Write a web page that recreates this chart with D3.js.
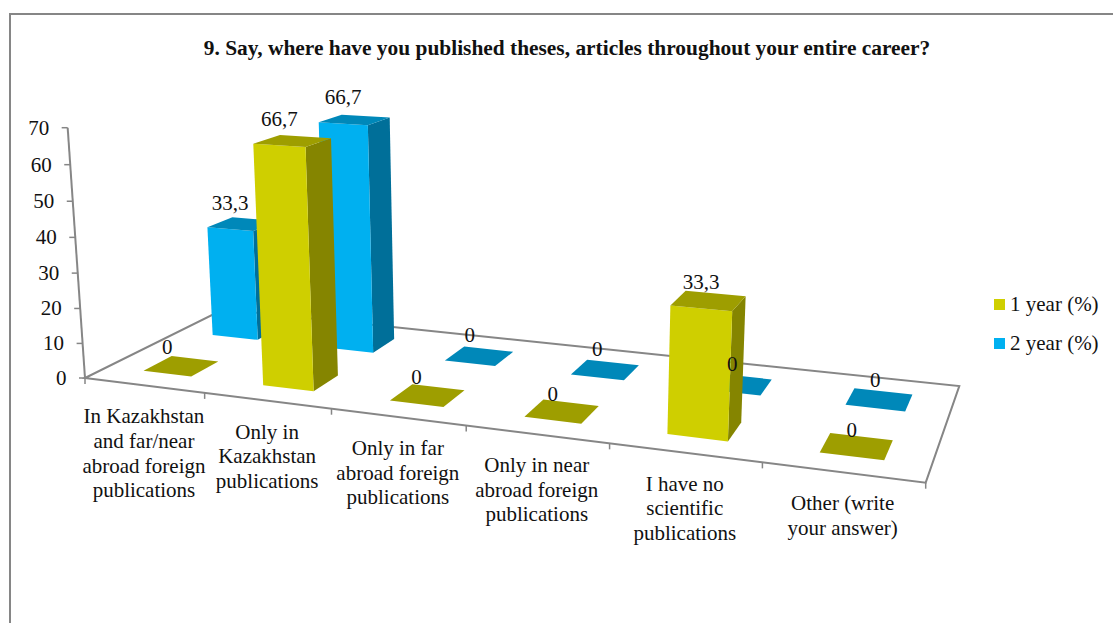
<!DOCTYPE html>
<html>
<head>
<meta charset="utf-8">
<title>9. Say, where have you published</title>
<script src="https://cdn.jsdelivr.net/npm/d3@7"></script>
<style>
	html, body { margin: 0; padding: 0; background: #fff; overflow: hidden; }
	text { font-family: "Liberation Serif", "Times New Roman", serif; fill: #111; }
</style>
</head>
<body>
<div id="chart"></div>
<script>
var title = "9. Say, where have you published theses, articles throughout your entire career?";

var categories = [
	["In Kazakhstan", "and far/near", "abroad foreign", "publications"],
	["Only in", "Kazakhstan", "publications"],
	["Only in far", "abroad foreign", "publications"],
	["Only in near", "abroad foreign", "publications"],
	["I have no", "scientific", "publications"],
	["Other (write", "your answer)"]
];
var seriesNames = ["1 year (%)", "2 year (%)"];
var year1 = [0, 66.7, 0, 0, 33.3, 0];
var year2 = [33.3, 66.7, 0, 0, 0, 0];
var yTicks = [0, 10, 20, 30, 40, 50, 60, 70];

var colors = [
	{ front: "#CFCF00", side: "#858500", top: "#9E9E00" },
	{ front: "#00B0F0", side: "#006F99", top: "#0088B9" }
];
var axisColor = "#868686";

chart("#chart");

function chart(id) {
	var width = 1113;
	var height = 623;

	var svg = d3.select(id).append("svg")
		.attr("width", width)
		.attr("height", height)
		.style("display", "block");

	// outer frame, only left and top are in the picture
	svg.append("path")
		.attr("d", "M10,623V14H1113")
		.attr("fill", "none")
		.attr("stroke", axisColor)
		.attr("stroke-width", 2);

	svg.append("text")
		.attr("x", 567).attr("y", 55)
		.attr("text-anchor", "middle")
		.style("font-size", "21.4px")
		.style("font-weight", "bold")
		.text(title);

	// scales work in a unit box: u along the front, v into the depth, h up
	var uScale = d3.scaleBand().domain(d3.range(categories.length)).range([0, 1]);
	var vScale = d3.scaleBand().domain([0, 1]).range([0, 1]);
	var hScale = d3.scaleLinear().domain([0, 70]).range([0, 1]);

	var project = createProjection();
	var line = d3.line().x(function(d) { return d[0]; }).y(function(d) { return d[1]; });

	drawFloor(svg, project, uScale, hScale, line);

	// 2 year row is behind the 1 year row
	var rows = [year1, year2];
	[1, 0].forEach(function(s) {
		rows[s].forEach(function(value, i) {
			createBar(svg, project, line, box(i, s, value), colors[s]);
		});
	});

	// data labels sit above the front centre of each bar top
	rows.forEach(function(values, s) {
		values.forEach(function(value, i) {
			var b = box(i, s, value);
			var p = project((b.u0 + b.u1) / 2, b.v0, b.h);
			svg.append("text")
				.attr("x", p[0])
				.attr("y", p[1] - (s == 1 && value == 0 ? 21 : 19.5))
				.attr("text-anchor", "middle")
				.style("font-size", "21px")
				.text(String(value).replace(".", ","));
		});
	});

	// category labels under the front edge
	categories.forEach(function(lines, i) {
		var p = project(uScale(i) + uScale.bandwidth() / 2, 0, 0);
		var t = svg.append("text")
			.attr("text-anchor", "middle")
			.style("font-size", "21px");
		lines.forEach(function(l, n) {
			t.append("tspan")
				.attr("x", p[0])
				.attr("y", p[1] + 38 + n * 24.6)
				.text(l);
		});
	});

	createLegend(svg);

	function box(i, s, value) {
		var bu = uScale.bandwidth();
		var bv = vScale.bandwidth();
		return {
			u0: uScale(i) + bu * 0.305,
			u1: uScale(i) + bu * 0.71,
			v0: vScale(s) + bv * 0.3,
			v1: vScale(s) + bv * 0.69,
			h: hScale(value)
		};
	}
}

// projective camera: floor homography from four corners + vertical vanishing point
function createProjection() {
	var fl = [85, 378], fr = [925.7, 482.7], br = [959.3, 386], bl = [223.5, 309.3];
	var vanish = [522, 6690];
	var k = -0.03814;

	var dx1 = fr[0] - br[0], dy1 = fr[1] - br[1];
	var dx2 = bl[0] - br[0], dy2 = bl[1] - br[1];
	var sx = fl[0] - fr[0] + br[0] - bl[0], sy = fl[1] - fr[1] + br[1] - bl[1];
	var det = dx1 * dy2 - dx2 * dy1;
	var g = (sx * dy2 - dx2 * sy) / det;
	var h = (dx1 * sy - sx * dy1) / det;
	var a = fr[0] - fl[0] + g * fr[0], b = bl[0] - fl[0] + h * bl[0];
	var d = fr[1] - fl[1] + g * fr[1], e = bl[1] - fl[1] + h * bl[1];

	return function(u, v, z) {
		var w = g * u + h * v + 1 + k * z;
		return [
			(a * u + b * v + fl[0] + k * z * vanish[0]) / w,
			(d * u + e * v + fl[1] + k * z * vanish[1]) / w
		];
	};
}

function drawFloor(svg, project, uScale, hScale, line) {
	var g = svg.append("g")
		.attr("fill", "none")
		.attr("stroke", axisColor)
		.attr("stroke-width", 2);

	g.append("path")
		.attr("d", line([project(0, 0, 0), project(1, 0, 0), project(1, 1, 0), project(0, 1, 0)]) + "Z");

	// value axis on the left corner
	g.append("path")
		.attr("d", line([project(0, 0, 0), project(0, 0, 1)]));

	yTicks.forEach(function(t) {
		var p = project(0, 0, hScale(t));
		g.append("path")
			.attr("stroke-width", 1.5)
			.attr("d", line([[p[0] - 6, p[1]], p]));
		svg.append("text")
			.attr("x", p[0] - 18.5)
			.attr("y", p[1] + 7)
			.attr("text-anchor", "end")
			.style("font-size", "21px")
			.text(t);
	});

	// category ticks hang off the front edge
	d3.range(categories.length + 1).forEach(function(i) {
		var u = i == categories.length ? 1 : uScale(i);
		var p = project(u, 0, 0);
		g.append("path")
			.attr("stroke-width", 1.5)
			.attr("d", line([p, [p[0], p[1] + 6]]));
	});
}

function createBar(svg, project, line, b, color) {
	var g = svg.append("g");

	function face(points, fill) {
		g.append("path")
			.attr("d", line(points) + "Z")
			.attr("fill", fill);
	}

	if (b.h > 0) {
		face([project(b.u1, b.v0, 0), project(b.u1, b.v1, 0), project(b.u1, b.v1, b.h), project(b.u1, b.v0, b.h)], color.side);
		face([project(b.u0, b.v0, 0), project(b.u1, b.v0, 0), project(b.u1, b.v0, b.h), project(b.u0, b.v0, b.h)], color.front);
	}
	face([project(b.u0, b.v0, b.h), project(b.u1, b.v0, b.h), project(b.u1, b.v1, b.h), project(b.u0, b.v1, b.h)], color.top);
}

function createLegend(svg) {
	seriesNames.forEach(function(name, s) {
		var y = d3.scaleLinear().domain([0, 1]).range([299, 338])(s);
		svg.append("rect")
			.attr("x", 994).attr("y", y)
			.attr("width", 11).attr("height", 11)
			.attr("fill", colors[s].front);
		svg.append("text")
			.attr("x", 1010).attr("y", y + 12)
			.style("font-size", "21px")
			.text(name);
	});
}
</script>
</body>
</html>
